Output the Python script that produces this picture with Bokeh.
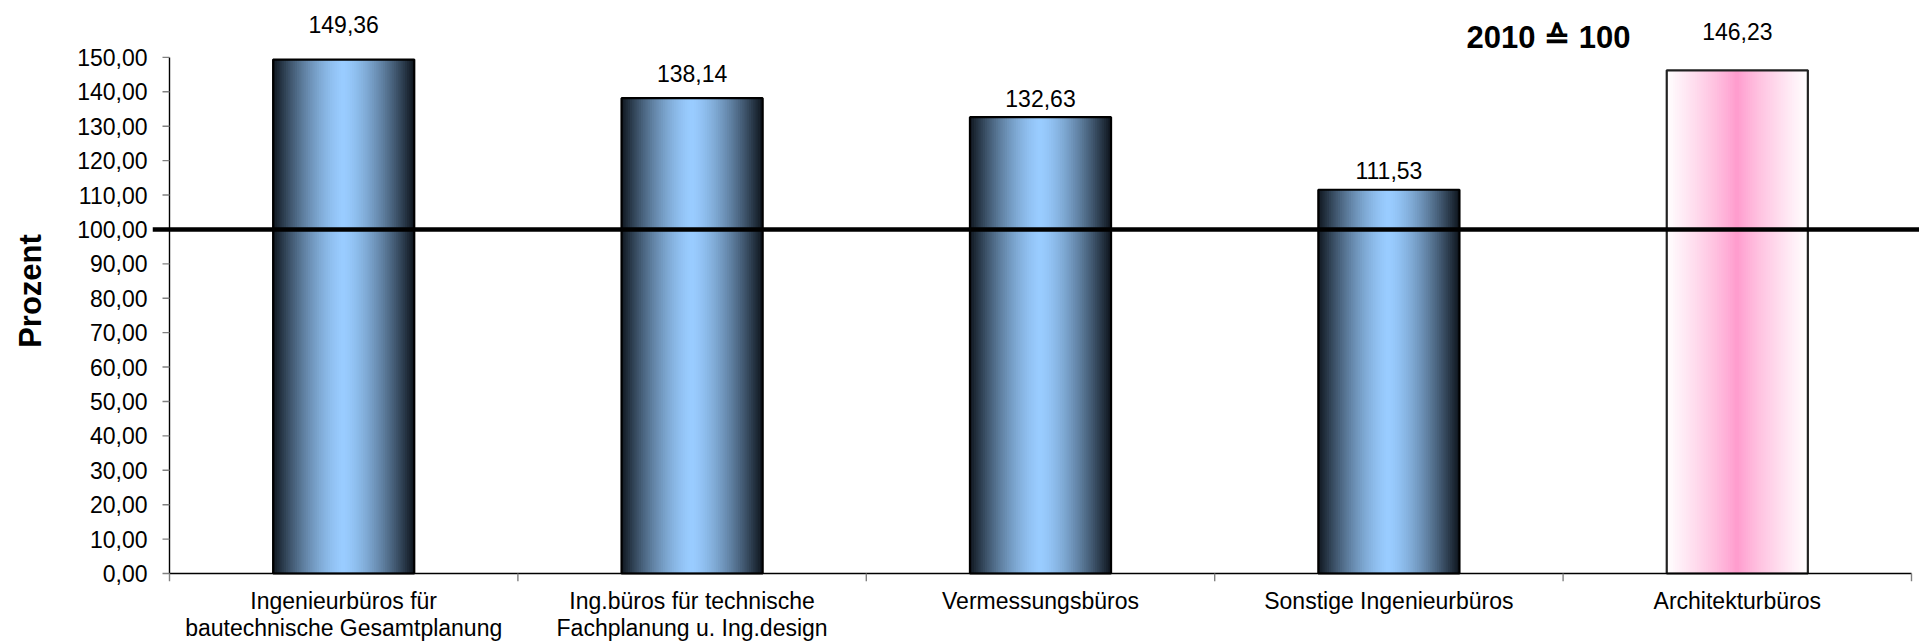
import numpy as np
from bokeh.plotting import figure
from bokeh.models import Range1d, FixedTicker, Span, Label
from bokeh.embed import file_html
from bokeh.resources import INLINE
from bokeh.core.properties import value

# ---------------- data ----------------
categories = [
    "Ingenieurbüros für\nbautechnische Gesamtplanung",
    "Ing.büros für technische\nFachplanung u. Ing.design",
    "Vermessungsbüros",
    "Sonstige Ingenieurbüros",
    "Architekturbüros",
]
values = [149.36, 138.14, 132.63, 111.53, 146.23]
value_labels = ["149,36", "138,14", "132,63", "111,53", "146,23"]
y_ticks = list(range(0, 151, 10))
y_tick_labels = [f"{t},00" for t in y_ticks]
reference_value = 100
reference_text = "2010 \u2259 100"
axis_title = "Prozent"

# ---------------- styles ----------------
bar_styles = ["blue", "blue", "blue", "blue", "pink"]
label_offsets = [-35, -25, -19, -19, -39]   # px above bar top
BAR_W = 0.405
N_STRIPS = 64
FONT = "Liberation Sans"
PX_X = 348.4       # px per x unit
PX_Y = 3.4467      # px per y unit
W, H = 1919, 643
FRAME_LEFT = 152
AXIS_X = 169       # pixel of x = 0
AXIS_Y = 574       # pixel of y = 0
FRAME_BOTTOM = 582


def hex_to_rgb(h):
    h = h.lstrip("#")
    return tuple(int(h[i:i + 2], 16) for i in (0, 2, 4))


def lerp(c1, c2, f):
    a, b = hex_to_rgb(c1), hex_to_rgb(c2)
    return "#%02x%02x%02x" % tuple(int(round(a[i] + (b[i] - a[i]) * f)) for i in range(3))


def strip_color(style, t):
    if style == "blue":
        return lerp("#99ccff", "#0e151d", t ** 1.5)
    return lerp("#ff99cc", "#ffffff", t ** 0.8)


centers = [i + 0.5 for i in range(len(categories))]

p = figure(
    width=W, height=H,
    output_backend="svg", toolbar_location=None,
    x_range=Range1d(-(AXIS_X - FRAME_LEFT) / PX_X, (W - AXIS_X) / PX_X),
    y_range=Range1d(-(FRAME_BOTTOM - AXIS_Y) / PX_Y, AXIS_Y / PX_Y),
    min_border_left=FRAME_LEFT, min_border_right=0,
    min_border_top=0, min_border_bottom=H - FRAME_BOTTOM,
)
p.outline_line_color = None
p.grid.visible = False
p.background_fill_color = "white"
p.border_fill_color = "white"

# gradient bars drawn as thin strips
xs, tops, cols = [], [], []
for c, v, st in zip(centers, values, bar_styles):
    for k in range(N_STRIPS):
        pos = (k + 0.5) / N_STRIPS
        t = abs(pos - 0.5) * 2
        xs.append(c - BAR_W / 2 + pos * BAR_W)
        tops.append(v)
        cols.append(strip_color(st, t))
p.vbar(x=xs, top=tops, bottom=0, width=BAR_W / N_STRIPS * 1.4,
       fill_color=cols, line_color=None)

# bar outlines
outline_cols = ["#000000" if s == "blue" else "#222222" for s in bar_styles]
p.vbar(x=centers, top=values, bottom=0, width=BAR_W,
       fill_color=None, line_color=outline_cols, line_width=2.2)

# axis lines and ticks (drawn at data origin)
p.segment(x0=[0], y0=[0], x1=[0], y1=[150], line_color="black", line_width=1.4)
p.segment(x0=[0], y0=[0], x1=[len(categories)], y1=[0], line_color="black", line_width=1.4)
p.segment(x0=[-7 / PX_X] * len(y_ticks), y0=y_ticks, x1=[0] * len(y_ticks), y1=y_ticks,
          line_color="#808080", line_width=1.4)
xt = list(range(len(categories) + 1))
p.segment(x0=xt, y0=[0] * len(xt), x1=xt, y1=[-8 / PX_Y] * len(xt),
          line_color="#808080", line_width=1.4)

# reference line at 100
p.add_layout(Span(location=reference_value, dimension="width",
                  line_color="black", line_width=4.5))

# value labels
p.text(x=centers, y=values, text=value_labels, y_offset=label_offsets,
       text_align="center", text_baseline="alphabetic",
       text_font=value(FONT), text_font_size="23px", text_color="black")

# reference annotation
p.add_layout(Label(x=(1548 - AXIS_X) / PX_X, y=(AXIS_Y - 37) / PX_Y, text=reference_text,
                   text_align="center", text_baseline="middle",
                   text_font=FONT, text_font_size="31px", text_font_style="bold",
                   text_color="black"))

# x axis (category labels)
xa = p.xaxis[0]
xa.ticker = FixedTicker(ticks=centers)
xa.major_label_overrides = {c: lab for c, lab in zip(centers, categories)}
xa.axis_line_color = None
xa.major_tick_line_color = None
xa.minor_tick_line_color = None
xa.major_tick_out = 0
xa.major_tick_in = 0
xa.major_label_standoff = 6
xa.major_label_text_font = FONT
xa.major_label_text_font_size = "23px"
xa.major_label_text_color = "black"
xa.major_label_text_line_height = 1.05

# y axis
ya = p.yaxis[0]
ya.ticker = FixedTicker(ticks=y_ticks)
ya.major_label_overrides = {t: lab for t, lab in zip(y_ticks, y_tick_labels)}
ya.axis_line_color = None
ya.major_tick_line_color = None
ya.minor_tick_line_color = None
ya.major_tick_out = 0
ya.major_tick_in = 0
ya.major_label_standoff = 5
ya.major_label_text_font = FONT
ya.major_label_text_font_size = "23px"
ya.major_label_text_color = "black"
ya.axis_label = axis_title
ya.axis_label_text_font = FONT
ya.axis_label_text_font_size = "31px"
ya.axis_label_text_font_style = "bold"
ya.axis_label_text_color = "black"
ya.axis_label_standoff = 26

open("out.html", "w").write(file_html(p, INLINE))
